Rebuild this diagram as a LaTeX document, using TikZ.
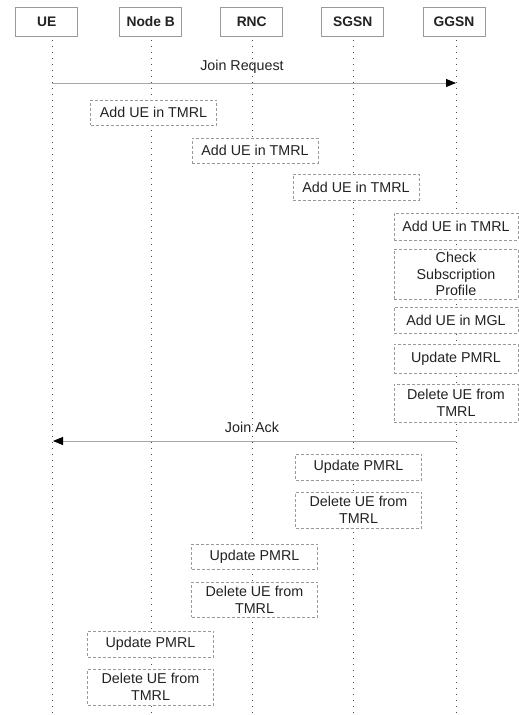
\documentclass[tikz,border=0pt]{standalone}
\usepackage{fontspec}
\setmainfont{Liberation Sans}
\usetikzlibrary{arrows.meta}
\definecolor{boxgray}{HTML}{9A9A9A}
\definecolor{linegray}{HTML}{A8A8A8}
\definecolor{txt}{HTML}{222222}
\begin{document}
\begin{tikzpicture}[x=1pt,y=-1pt,
  font=\fontsize{14.3}{16.7}\selectfont, text=txt,
  head/.style={draw=boxgray, line width=0.7pt, minimum width=62pt, minimum height=29pt,
    inner sep=0pt, font=\bfseries\fontsize{13.8}{16}\selectfont},
  act/.style={draw=boxgray, line width=0.7pt, dash pattern=on 3pt off 2pt, fill=white,
    minimum width=126pt, inner sep=0pt, align=center},
  life/.style={draw=black!70, line width=0.8pt, dash pattern=on 0.8pt off 5.2pt},
  msg/.style={draw=linegray, line width=0.9pt, -{Triangle[length=10pt,width=8pt,fill=black,color=black]}}]
\useasboundingbox[fill=white] (0,0) rectangle (519,715);

% headers
\node[head] (ue) at (46.7,21.5) {UE};
\node[head] (nb) at (150.7,21.5) {Node B};
\node[head] (rnc) at (251.7,21.5) {RNC};
\node[head] (sgsn) at (352.8,21.5) {SGSN};
\node[head] (ggsn) at (454,21.5) {GGSN};

% lifelines
\coordinate (ue-t) at (52,40);   \coordinate (ue-b) at (52,715);
\coordinate (nb-t) at (151,40);  \coordinate (nb-b) at (151,715);
\coordinate (rnc-t) at (252,40); \coordinate (rnc-b) at (252,715);
\coordinate (sg-t) at (353,40);  \coordinate (sg-b) at (353,715);
\coordinate (gg-t) at (456,40);  \coordinate (gg-b) at (456,715);
\foreach \l in {ue,nb,rnc,sg,gg} {\draw[life] (\l-t) -- (\l-b);}

% Join Request
\node (jrl) at (242,67) {Join Request};
\coordinate (jr-a) at (52,83); \coordinate (jr-b) at (456,83);
\draw[msg] (jr-a) -- (jr-b);

% Add UE in TMRL
\node[act, minimum height=25pt] (a1) at (153.5,112.5) {Add UE in TMRL};
\node[act, minimum height=25pt] (a2) at (255,150.5) {Add UE in TMRL};
\node[act, minimum height=26pt] (a3) at (356,187) {Add UE in TMRL};
\node[act, minimum height=27pt, minimum width=124pt] (a4) at (456,226.5) {Add UE in TMRL};
\node[act, minimum height=50pt, minimum width=124pt] (a5) at (456,274) {Check\\Subscription\\Profile};
\node[act, minimum height=26pt, minimum width=124pt] (a6) at (456,320) {Add UE in MGL};
\node[act, minimum height=29pt, minimum width=124pt] (a7) at (456,358.5) {Update PMRL};
\node[act, minimum height=38pt, minimum width=124pt] (a8) at (456,403) {Delete UE from\\TMRL};

% Join Ack
\node (jal) at (252,427) {Join Ack};
\coordinate (ja-a) at (456,441); \coordinate (ja-b) at (53,441);
\draw[msg] (ja-a) -- (ja-b);

% SGSN
\node[act, minimum height=26pt] (s1) at (358.5,467) {Update PMRL};
\node[act, minimum height=36pt] (s2) at (358.5,510) {Delete UE from\\TMRL};

% RNC
\node[act, minimum height=25pt] (r1) at (254.5,556.5) {Update PMRL};
\node[act, minimum height=35pt] (r2) at (254.5,599.5) {Delete UE from\\TMRL};

% Node B
\node[act, minimum height=26pt] (n1) at (150.5,644) {Update PMRL};
\node[act, minimum height=36pt] (n2) at (150.5,687) {Delete UE from\\TMRL};
\end{tikzpicture}
\end{document}
